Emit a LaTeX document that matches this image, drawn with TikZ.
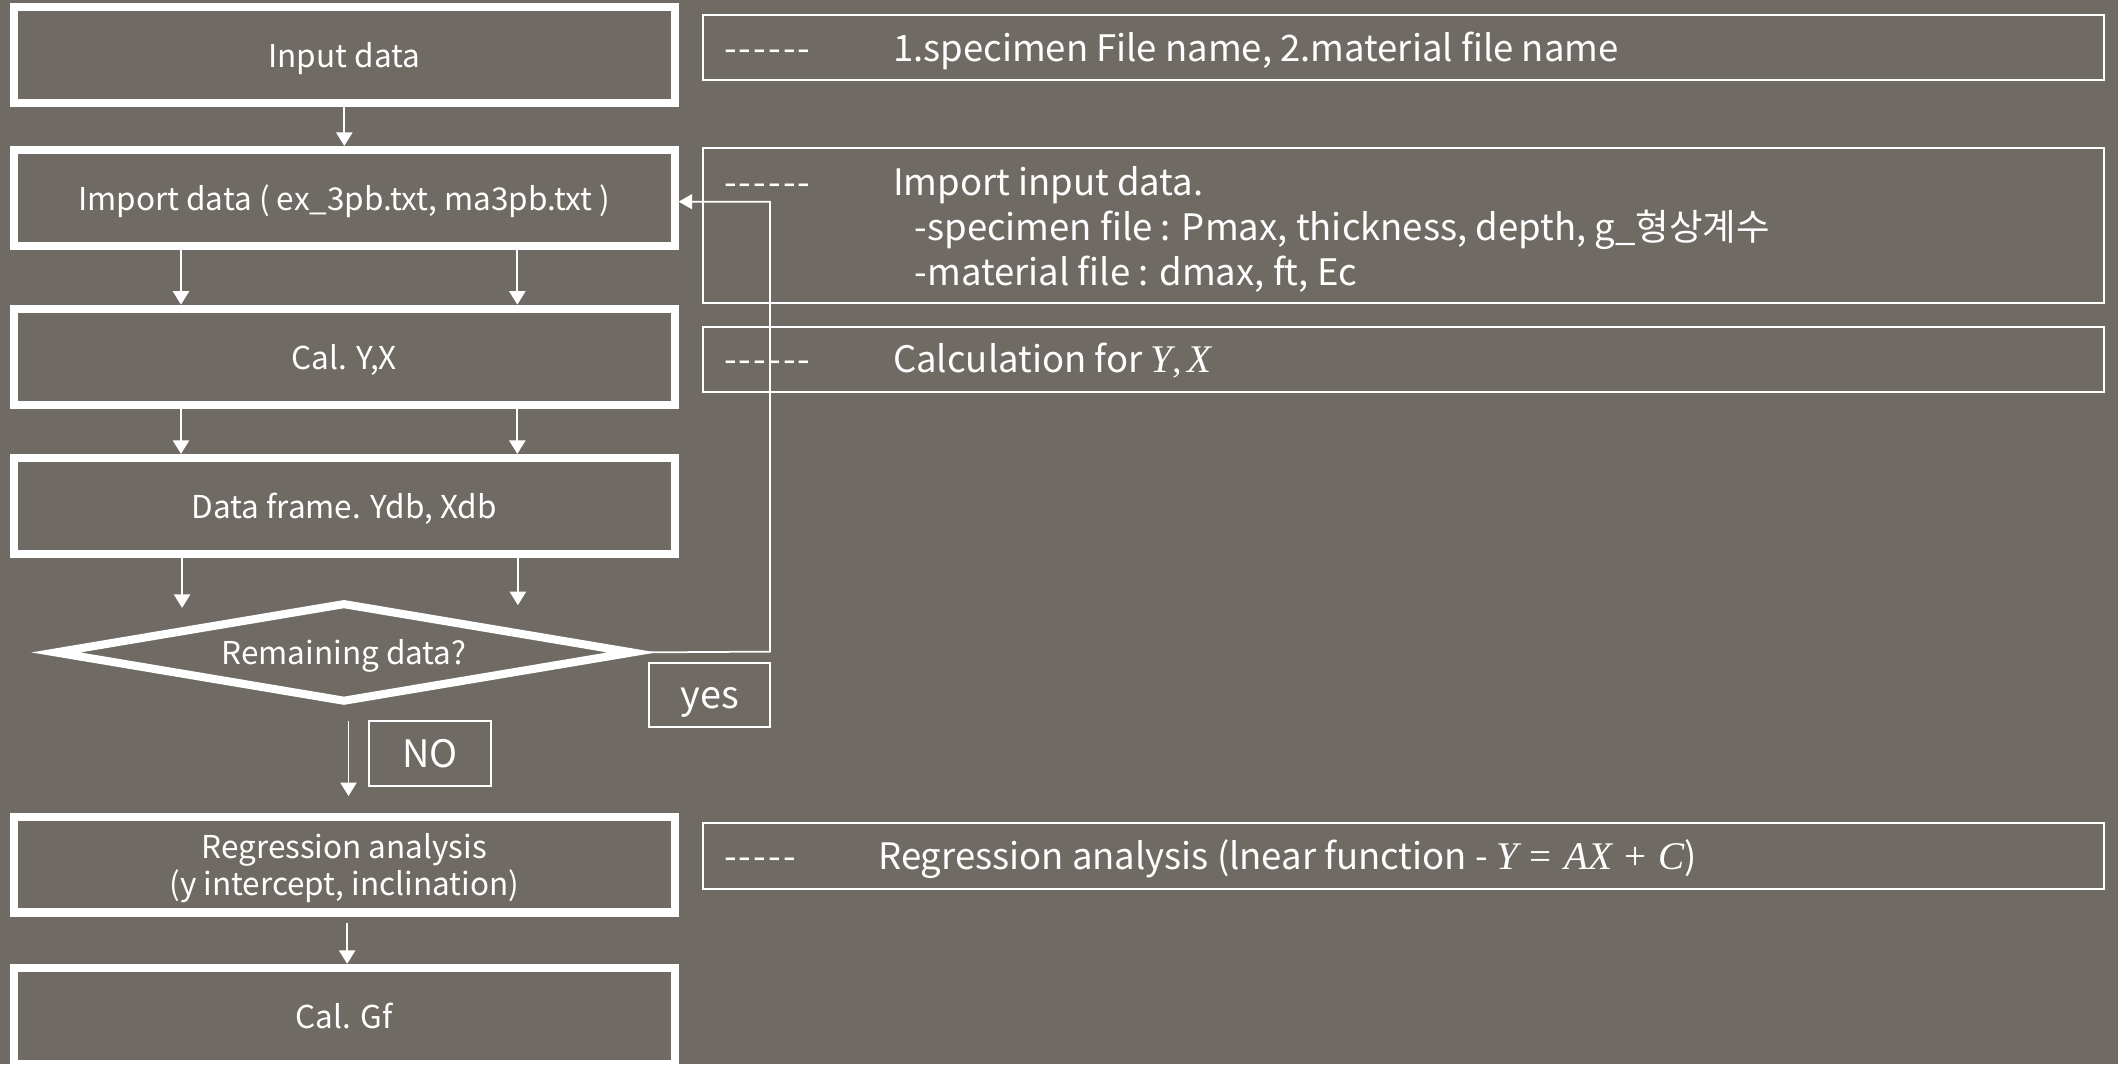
\documentclass[tikz,border=0pt]{standalone}
\usepackage{fontspec}
\setmainfont{Noto Sans CJK KR}
\newfontfamily\cambria{Liberation Serif}
\usetikzlibrary{arrows.meta,shapes.geometric}
\definecolor{bg}{RGB}{111,107,100}
\newcommand{\mi}[1]{{\cambria\itshape\fontsize{29}{33}\selectfont #1}}
\newcommand{\mr}[1]{{\cambria #1}}
\newcommand{\op}[1]{\kern9pt{\cambria\fontsize{29}{33}\selectfont #1}\kern9pt}
\newcommand{\hy}{-\kern1.5pt}
\begin{document}
\begin{tikzpicture}[x=1pt,y=-1pt,
  mainbox/.style={draw=white,line width=6pt,minimum width=489pt,minimum height=71pt,inner sep=0pt,text=white,font=\fontsize{23.3}{28}\selectfont,align=center,text height=20.6pt,text depth=2pt},
  notebox/.style={draw=white,line width=1.5pt,minimum width=1037.5pt,inner sep=0pt},
  lbl/.style={draw=white,line width=1.5pt,inner sep=0pt,text=white,font=\fontsize{28}{30}\selectfont,text height=22pt,text depth=2pt},
  txt/.style={text=white,font=\fontsize{27}{33}\selectfont,inner sep=0pt,anchor=base west},
  arr/.style={draw=white,line width=1.4pt,-{Triangle[length=10pt,width=12pt]}},
  loop/.style={draw=white,line width=1.3pt,-{Triangle[length=10pt,width=11pt]}},
]
\fill[bg] (0,0) rectangle (1568,788);
\useasboundingbox (0,0) rectangle (1568,788);

% left flow
\node[mainbox] (in) at (254.9,40.5) {Input data};
\node[mainbox] (imp) at (254.9,146.5) {Import data ( ex\_3pb.txt, ma3pb.txt )};
\node[mainbox] (cal) at (254.9,264) {Cal. Y,X};
\node[mainbox] (dat) at (254.9,374.5) {Data frame. Ydb, Xdb};
\node[diamond,shape aspect=5.72,draw=white,line width=6pt,line join=miter,minimum width=429pt,minimum height=74pt,inner sep=0pt,text=white,font=\fontsize{23.3}{28}\selectfont,text height=20.6pt,text depth=2pt] (dia) at (254.6,483) {Remaining data?};
\node[mainbox,text height=48.6pt] (reg) at (254.9,640) {Regression analysis\\(y intercept, inclination)};
\node[mainbox] (gf) at (254.9,752) {Cal. Gf};

\node[lbl,minimum width=89.4pt,minimum height=47.4pt] (yes) at (525.5,514.3) {yes};
\node[lbl,minimum width=90.3pt,minimum height=48.3pt] (no) at (318.3,557.9) {NO};

% right notes
\node[notebox,minimum height=48.3pt] (n1) at (1039,35) {};
\node[notebox,minimum height=115.3pt] (n2) at (1039,167) {};
\node[notebox,minimum height=48pt] (n3) at (1039,266.4) {};
\node[notebox,minimum height=48.4pt] (n4) at (1039,633.7) {};

\node[txt] (d1) at (536,45.6) {\hy\hy\hy\hy\hy-};
\node[txt] (t1) at (661,45.6) {1.specimen File name, 2.material file name};
\node[txt] (d2) at (536,144.4) {\hy\hy\hy\hy\hy-};
\node[txt] (t2a) at (661,144.4) {Import input data.};
\node[txt] (t2b) at (677,177.7) {-specimen file : Pmax, thickness, depth, g\_형상계수};
\node[txt] (t2c) at (677,211) {-material file : dmax, ft, Ec};
\node[txt] (d3) at (536,275.9) {\hy\hy\hy\hy\hy-};
\node[txt] (t3) at (661,275.9) {Calculation for \mi{Y}\mr{,\,}\mi{X}};
\node[txt] (d4) at (536,644) {\hy\hy\hy\hy-};
\node[txt] (t4) at (650,644) {Regression analysis (lnear function - \mi{Y}\op{=}\mi{AX}\op{+}\mi{C})};

% connector coordinates
\coordinate (xl) at (134,0);
\coordinate (xr) at (383,0);
\coordinate (dl) at (134.8,450);
\coordinate (dr) at (383.4,448);
\coordinate (no1) at (258,534);
\coordinate (no2) at (258,589.3);
\coordinate (rg1) at (257,683);
\coordinate (lp1) at (570,482.4);
\coordinate (lp2) at (570,149.3);

\draw[arr] (in.south) -- (imp.north);
\draw[arr] (imp.south -| xl) -- (cal.north -| xl);
\draw[arr] (imp.south -| xr) -- (cal.north -| xr);
\draw[arr] (cal.south -| xl) -- (dat.north -| xl);
\draw[arr] (cal.south -| xr) -- (dat.north -| xr);
\draw[arr] (dat.south -| dl) -- (dl);
\draw[arr] (dat.south -| dr) -- (dr);
\draw[arr] (no1) -- (no2);
\draw[arr] (rg1) -- (gf.north -| rg1);
\draw[loop] (dia.east) -- (lp1) -- (lp2) -- (imp.east |- lp2);
\end{tikzpicture}
\end{document}
